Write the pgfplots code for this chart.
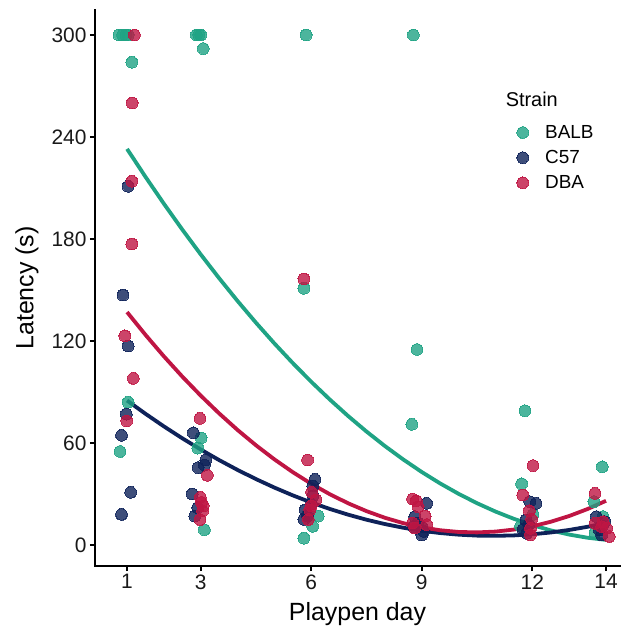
\documentclass[border=0pt]{standalone}
\usepackage{fontspec}
\setmainfont{Liberation Sans}
\usepackage{pgfplots}
\pgfplotsset{compat=1.18}
\definecolor{balb}{HTML}{1FA384}
\definecolor{cfs}{HTML}{0E2259}
\definecolor{dba}{HTML}{BF1543}
\begin{document}
\begin{tikzpicture}
\path[use as bounding box] (-95bp,-65bp) rectangle (529bp,566bp);
\begin{axis}[
  at={(0,0)}, anchor=south west,
  scale only axis, width=525bp, height=556bp,
  xmin=0.13, xmax=14.38, ymin=-12.35, ymax=314.7,
  axis x line*=bottom, axis y line*=left,
  axis line style={-, line width=2.6bp, black, line cap=rect},
  xtick={1,3,6,9,12,14}, ytick={0,60,120,180,240,300},
  tick align=outside, major tick length=5bp,
  tick style={line width=1.8bp, black},
  /pgf/number format/assume math mode=true,
  ticklabel style={font=\fontsize{21}{21}\selectfont, text=black!90},
  xlabel={Playpen day}, ylabel={Latency (s)},
  label style={font=\fontsize{25}{25}\selectfont},
  xlabel style={at={(axis description cs:0.5,-0.0872)}, anchor=center},
  ylabel style={at={(axis description cs:-0.1295,0.5)}, anchor=center},
  legend cell align=left,
  legend image code/.code={\draw[#1] plot coordinates {(0bp,0bp)};},
  legend style={draw=none, fill=none, at={(0.8032,0.7966)}, anchor=north west,
    inner sep=0pt, row sep=6.5bp, column sep=14.5bp,
    font=\fontsize{19}{19}\selectfont, nodes={inner sep=2bp, text depth=0.15em}},
]
% fitted curves
\addplot[balb, line width=3.8bp, forget plot] coordinates {
(1,233.0)(1.5,216.57)(2,200.74)(2.5,185.52)(3,170.93)(3.5,156.92)(4,143.52)(4.5,130.73)
(5,118.55)(5.5,106.97)(6,96.0)(6.5,85.64)(7,75.88)(7.5,66.73)(8,58.19)(8.5,50.26)
(9,42.92)(9.5,36.20)(10,30.09)(10.5,24.58)(11,19.68)(11.5,15.39)(12,11.71)(12.5,8.61)
(13,6.14)(13.5,4.27)(14,3.01)};
\addplot[cfs, line width=3.8bp, forget plot] coordinates {
(1,85.0)(1.5,77.19)(2,69.77)(2.5,62.76)(3,56.16)(3.5,49.95)(4,44.15)(4.5,38.77)
(5,33.77)(5.5,29.18)(6,25.01)(6.5,21.23)(7,17.85)(7.5,14.87)(8,12.31)(8.5,10.15)
(9,8.38)(9.5,7.03)(10,6.08)(10.5,5.53)(11,5.39)(11.5,5.65)(12,6.31)(12.5,7.37)
(13,8.85)(13.5,10.72)(14,13.0)};
\addplot[dba, line width=3.8bp, forget plot] coordinates {
(1,137.0)(1.5,123.62)(2,110.97)(2.5,99.05)(3,87.86)(3.5,77.40)(4,67.65)(4.5,58.65)
(5,50.37)(5.5,42.83)(6,36.01)(6.5,29.91)(7,24.55)(7.5,19.92)(8,16.01)(8.5,12.84)
(9,10.38)(9.5,8.67)(10,7.68)(10.5,7.42)(11,7.89)(11.5,9.08)(12,11.01)(12.5,13.67)
(13,17.05)(13.5,21.17)(14,26.0)};
% points
\addplot[only marks, mark=*, mark size=5.9bp, mark options={draw=balb, fill=balb, line width=0pt, opacity=0.8}] coordinates {
(0.78,300)(0.88,300)(0.97,300)(1.03,300)(1.13,284)(1.03,84)(0.81,55)
(2.88,300)(2.95,300)(3.00,300)(3.07,292)(3.01,63)(2.92,57)(3.10,9)
(5.86,300)(5.80,151)(6.19,17)(6.04,11)(5.80,4)(5.90,18)
(8.77,300)(8.87,115)(8.73,71)
(11.80,79)(11.71,36)(12.02,18)(11.68,11)(11.90,12)
(13.90,46)(13.67,25.5)(13.92,16.7)(13.70,7)};
\addlegendentry{BALB}
\addplot[only marks, mark=*, mark size=5.9bp, mark options={draw=cfs, fill=cfs, line width=0pt, opacity=0.8}] coordinates {
(1.03,211)(0.89,147)(1.03,117)(0.98,77)(0.85,64.5)(1.10,31)(0.85,18)
(2.80,66)(3.14,50)(2.93,45.5)(3.10,47)(2.77,30)(2.92,22)(2.84,17)
(6.10,38.6)(6.04,34.7)(6.05,29)(5.83,20.6)(5.80,15.1)(5.90,17)(6.00,24)
(9.13,24.5)(8.81,16.7)(8.77,10.8)(9.00,10.8)(9.00,5.9)(8.90,13)(9.05,8)
(11.93,25.5)(12.10,24.5)(11.83,14.7)(11.75,9.2)(11.85,6.9)(11.90,12)
(13.74,16.7)(13.97,13.7)(13.82,8.8)(13.88,5.9)(13.90,11)};
\addlegendentry{C57}
\addplot[only marks, mark=*, mark size=5.9bp, mark options={draw=dba, fill=dba, line width=0pt, opacity=0.8}] coordinates {
(1.20,300)(1.14,260)(1.13,214)(1.13,177)(0.94,123)(1.17,98)(0.99,73)
(2.98,74.5)(3.18,41)(2.99,28)(3.07,23)(3.02,25)(2.98,15)(3.05,20)
(5.80,156.5)(5.90,50)(6.01,31)(6.13,26.5)(5.96,20.6)(5.92,15)(6.00,23)
(8.75,27)(8.85,26)(8.90,22.5)(9.09,17)(8.75,13)(9.13,12)(8.81,10)
(12.02,46.7)(11.74,29.4)(11.92,20.2)(11.98,15.1)(11.95,9.8)(11.95,6)
(13.70,30.4)(13.70,12.7)(13.88,10.8)(14.02,9.8)(14.09,5)(13.92,13.7)};
\addlegendentry{DBA}
\node[anchor=base west, inner sep=0pt, font=\fontsize{20}{20}\selectfont] at (axis description cs:0.782,0.826) {Strain};
\end{axis}
\end{tikzpicture}
\end{document}
